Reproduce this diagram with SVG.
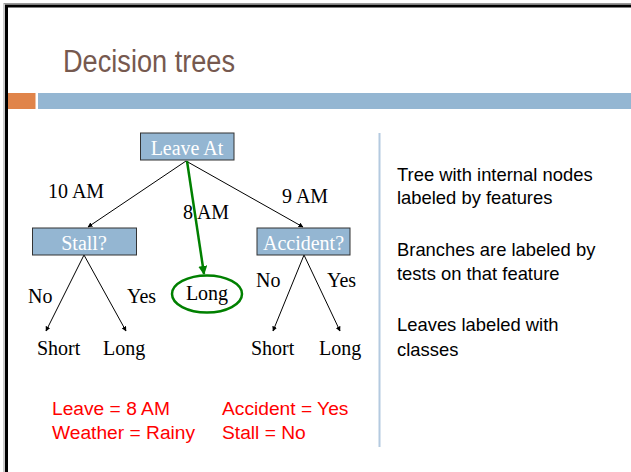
<svg xmlns="http://www.w3.org/2000/svg" width="631" height="472" viewBox="0 0 631 472">
<style>
.frame{fill:none;stroke:#000;stroke-width:3}
.t{font-family:"Liberation Serif","Times New Roman",serif;font-size:20px;fill:#000}
.tw{font-family:"Liberation Serif","Times New Roman",serif;font-size:20px;fill:#fff;text-anchor:middle}
.box{fill:#94b6d2;stroke:#333;stroke-width:1}
.s{font-family:"Liberation Sans",Arial,sans-serif;font-size:18.4px;fill:#000}
.r{font-family:"Liberation Sans",Arial,sans-serif;font-size:19.2px;fill:#ff0000}
.e{stroke:#000;stroke-width:1;fill:none;marker-end:url(#ah)}
.g{stroke:#008000;stroke-width:2.5;fill:none;marker-end:url(#ag)}
</style>
<defs>
<marker id="ah" viewBox="0 0 10 10" refX="9" refY="5" markerWidth="5" markerHeight="5" orient="auto" markerUnits="userSpaceOnUse">
<path d="M0,0 L10,5 L0,10 z" fill="#000"/>
</marker>
<marker id="ag" viewBox="0 0 10 10" refX="9" refY="5" markerWidth="9" markerHeight="9" orient="auto" markerUnits="userSpaceOnUse">
<path d="M0,0 L10,5 L0,10 z" fill="#008000"/>
</marker>
</defs>
<rect width="631" height="472" fill="#fff"/>
<rect x="4" y="3.5" width="640" height="480" fill="none" stroke="#999" stroke-width="1"/>
<rect x="6.5" y="6" width="640" height="480" class="frame"/>
<text x="63" y="72" font-family="'Liberation Sans',Arial,sans-serif" font-size="31" fill="#76594f" textLength="172" lengthAdjust="spacingAndGlyphs">Decision trees</text>
<rect x="8" y="93" width="27.5" height="16" fill="#e0844a"/>
<rect x="38" y="93" width="593" height="16" fill="#94b6d2"/>
<line x1="379.5" y1="133" x2="379.5" y2="447" stroke="#b4cae0" stroke-width="2"/>

<g id="connectors">
<line class="e" x1="186" y1="161" x2="88" y2="227"/>
<line class="e" x1="186" y1="161" x2="303" y2="227"/>
<line class="g" x1="187" y1="161" x2="204" y2="274"/>
<line class="e" x1="84" y1="255" x2="46" y2="331"/>
<line class="e" x1="84" y1="255" x2="126" y2="331"/>
<line class="e" x1="304" y1="255" x2="273" y2="331"/>
<line class="e" x1="304" y1="255" x2="340" y2="331"/>
<text class="t" x="48" y="198">10 AM</text>
<text class="t" x="183" y="219">8 AM</text>
<text class="t" x="282" y="203">9 AM</text>
<text class="t" x="28" y="303">No</text>
<text class="t" x="127" y="303">Yes</text>
<text class="t" x="256" y="287">No</text>
<text class="t" x="327" y="287">Yes</text>
</g>

<g id="leave-at">
<rect class="box" x="140.5" y="133" width="93.5" height="27"/>
<text class="tw" x="187" y="155">Leave At</text>
</g>
<g id="stall">
<rect class="box" x="32.5" y="228" width="104" height="27"/>
<text class="tw" x="84" y="250">Stall?</text>
</g>
<g id="accident">
<rect class="box" x="257" y="228" width="93" height="27"/>
<text class="tw" x="303.5" y="250">Accident?</text>
</g>
<g id="long-mid">
<ellipse cx="207" cy="294" rx="35" ry="18.5" fill="none" stroke="#008000" stroke-width="2.5"/>
<text class="t" x="207" y="300" text-anchor="middle">Long</text>
</g>
<g id="short-1"><text class="t" x="37" y="355">Short</text></g>
<g id="long-1"><text class="t" x="103" y="355">Long</text></g>
<g id="short-2"><text class="t" x="251" y="355">Short</text></g>
<g id="long-2"><text class="t" x="319" y="355">Long</text></g>

<text class="s" x="397" y="181">Tree with internal nodes</text>
<text class="s" x="397" y="204">labeled by features</text>
<text class="s" x="397" y="256">Branches are labeled by</text>
<text class="s" x="397" y="280">tests on that feature</text>
<text class="s" x="397" y="331">Leaves labeled with</text>
<text class="s" x="397" y="356">classes</text>

<text class="r" x="52" y="415">Leave = 8 AM</text>
<text class="r" x="52" y="439">Weather = Rainy</text>
<text class="r" x="222" y="415">Accident = Yes</text>
<text class="r" x="222" y="439">Stall = No</text>
</svg>
